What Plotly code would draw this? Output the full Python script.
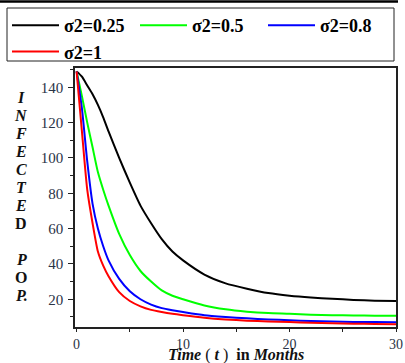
import plotly.graph_objects as go

# Time grid (months) and infected population for each sigma2 value
t = [0, 0.5, 1, 1.5, 2, 2.5, 3, 4, 5, 6, 7, 8, 9, 10, 12, 14, 16, 18, 20, 22, 24, 26, 28, 30]

inf_025 = [149, 146, 141, 136, 130, 123, 115, 100, 86, 73, 63, 54, 47, 42, 34, 29, 26, 23.5, 22, 21, 20.3, 19.6, 19.2, 19]
inf_05 = [149, 135, 120, 106, 92, 82, 73, 57, 45, 36, 30, 25, 22, 20, 16.5, 14.3, 13, 12.2, 11.8, 11.3, 11, 10.8, 10.7, 10.6]
inf_08 = [149, 128, 98, 74, 60, 50, 42, 31.5, 24.5, 20, 17, 15, 13.8, 12.8, 11, 10, 9.2, 8.6, 8.1, 7.7, 7.4, 7.2, 7.1, 7]
inf_1 = [149, 115, 82, 63, 47, 39, 33, 24, 19, 16, 14, 12.8, 11.8, 11, 9.6, 8.6, 7.9, 7.4, 7.1, 6.7, 6.4, 6.2, 6, 5.8]

series = [
    ("σ2=0.25", inf_025, "#000000"),
    ("σ2=0.5", inf_05, "#00ff00"),
    ("σ2=0.8", inf_08, "#0000ff"),
    ("σ2=1", inf_1, "#ff0000"),
]

SERIF = "Liberation Serif"
TICK_COLOR = "#2a3346"

fig = go.Figure()
for name, vals, color in series:
    fig.add_trace(go.Scatter(
        x=t, y=vals, name=name, mode="lines",
        line=dict(color=color, width=2, shape="spline", smoothing=0.6),
    ))

L, R, T, B = 75, 9, 68, 36
W, H = 405, 363
pw, ph = W - L - R, H - T - B

def px_x(px):
    return (px - L) / pw

def px_y(py):
    return (H - B - py) / ph

# Vertical stacked y-axis caption
letters = [("I", True), ("N", True), ("F", True), ("E", True), ("C", True), ("T", True),
           ("E", True), ("D", False), ("", False), ("P", True), ("O", False), ("P.", True)]
annotations = []
y0, step = 97, 18.0
for i, (ch, ital) in enumerate(letters):
    if not ch:
        continue
    txt = f"<b><i>{ch}</i></b>" if ital else f"<b>{ch}</b>"
    annotations.append(dict(
        text=txt, xref="paper", yref="paper", x=px_x(21), y=px_y(y0 + i * step),
        xanchor="center", yanchor="middle", showarrow=False,
        font=dict(family=SERIF, size=16, color="#111111"),
    ))

annotations.append(dict(
    text="<b><i>Time</i></b> ( <b><i>t</i></b> )  <b>in</b> <b><i>Months</i></b>",
    xref="paper", yref="paper", x=px_x(236), y=px_y(354.5),
    xanchor="center", yanchor="middle", showarrow=False,
    font=dict(family=SERIF, size=16, color="#111111"),
))

fig.update_layout(
    width=W, height=H,
    margin=dict(l=L, r=R, t=T, b=B, autoexpand=False),
    paper_bgcolor="white", plot_bgcolor="white",
    showlegend=True,
    legend=dict(
        orientation="h", x=px_x(7), y=px_y(7), xanchor="left", yanchor="top",
        bgcolor="rgba(0,0,0,0)", borderwidth=0,
        font=dict(family=SERIF, size=18, color="#000000", weight="bold"),
        itemwidth=47, tracegroupgap=0,
        entrywidth=66, entrywidthmode="pixels",
    ),
    annotations=annotations,
    shapes=[
        dict(type="line", xref="paper", yref="paper",
             x0=px_x(0), x1=px_x(398), y0=px_y(1.5), y1=px_y(1.5),
             line=dict(color="#000000", width=2.5)),
        dict(type="rect", xref="paper", yref="paper", layer="below",
             x0=px_x(7), x1=px_x(394), y0=px_y(8), y1=px_y(61),
             line=dict(color="#222222", width=1), fillcolor="white"),
    ],
    xaxis=dict(
        range=[-0.15, 30], tickvals=[0, 10, 20, 30], ticks="outside", ticklen=3,
        tickcolor="#222222", showline=True, linecolor="#222222", linewidth=1.5,
        mirror=True, showgrid=False, zeroline=False, ticklabelstandoff=0,
        tickfont=dict(family=SERIF, size=14, color=TICK_COLOR),
        minor=dict(tickvals=[5, 15, 25], ticks="outside", ticklen=3, tickcolor="#222222"),
    ),
    yaxis=dict(
        range=[4.3, 150.9], tickvals=[20, 40, 60, 80, 100, 120, 140], ticks="outside",
        ticklen=5, tickcolor="#222222", showline=True, linecolor="#222222", linewidth=1.5,
        mirror=True, showgrid=False, zeroline=False, ticklabelstandoff=2,
        tickfont=dict(family=SERIF, size=15, color=TICK_COLOR),
        minor=dict(tickvals=[10, 30, 50, 70, 90, 110, 130, 150], ticks="outside",
                   ticklen=3, tickcolor="#222222"),
    ),
)

fig.write_html("out.html")
